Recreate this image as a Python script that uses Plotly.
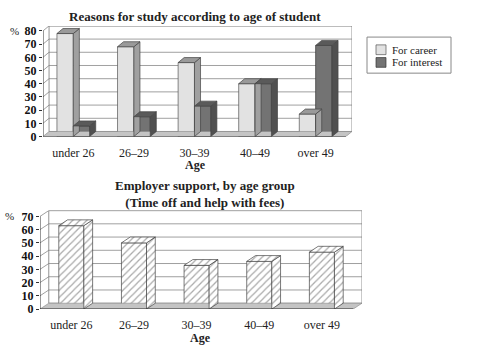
import plotly.graph_objects as go

ages = ["under 26", "26–29", "30–39", "40–49", "over 49"]
career = [78, 68, 56, 40, 17]
interest = [8, 15, 23, 40, 69]
support = [63, 50, 33, 36, 43]
ticks_top = [0, 10, 20, 30, 40, 50, 60, 70, 80]
ticks_bot = [0, 10, 20, 30, 40, 50, 60, 70]
legend_names = ["For career", "For interest"]

FONT = "Liberation Serif"
xs = list(range(len(ages)))

CAREER_COL = "#e2e2e2"
INTEREST_COL = "#737373"

fig = go.Figure()

# depth for pseudo-3D
DX1, DY1 = 0.10, 3.8
DX2, DY2 = 0.14, 4.4
W1 = 0.27
W2 = 0.40


def floor(dx, dy, xa, ya):
    return go.Scatter(x=[-0.5, 4.5, 4.5 + dx, -0.5 + dx, -0.5],
                      y=[0, 0, dy, dy, 0], fill="toself", mode="lines",
                      line=dict(color="#888", width=0.6), fillcolor="#c4c4c4",
                      hoverinfo="skip", showlegend=False, xaxis=xa, yaxis=ya)


def faces(xl, xr, v, dx, dy, side_col, top_col, xa, ya, pattern=None):
    out = []
    sx = [xr, xr + dx, xr + dx, xr, xr]
    sy = [0, dy, v + dy, v, 0]
    tx = [xl, xr, xr + dx, xl + dx, xl]
    ty = [v, v, v + dy, v + dy, v]
    for pxs, pys, col in ((sx, sy, side_col), (tx, ty, top_col)):
        kw = dict(x=pxs, y=pys, fill="toself", mode="lines",
                  line=dict(color="#444", width=0.7), fillcolor=col,
                  hoverinfo="skip", showlegend=False, xaxis=xa, yaxis=ya)
        if pattern:
            kw["fillpattern"] = pattern
        out.append(go.Scatter(**kw))
    return out


fig.add_trace(floor(DX1, DY1, "x", "y"))
fig.add_trace(floor(DX2, DY2, "x2", "y2"))

# top chart bars
fig.add_trace(go.Bar(x=xs, y=career, width=W1, offset=-W1, name=legend_names[0],
                     showlegend=False,
                     marker=dict(color=CAREER_COL, line=dict(color="#555", width=0.7)),
                     xaxis="x", yaxis="y"))
fig.add_trace(go.Bar(x=xs, y=interest, width=W1, offset=0, name=legend_names[1],
                     showlegend=False,
                     marker=dict(color=INTEREST_COL, line=dict(color="#333", width=0.7)),
                     xaxis="x", yaxis="y"))
for i in xs:
    for t in faces(i - W1, i, career[i], DX1, DY1, "#a0a0a0", "#9a9a9a", "x", "y"):
        fig.add_trace(t)
    for t in faces(i, i + W1, interest[i], DX1, DY1, "#505050", "#5a5a5a", "x", "y"):
        fig.add_trace(t)

# bottom chart bars
hatch = dict(shape="/", fgcolor="#555", bgcolor="white", size=5, solidity=0.25)
fig.add_trace(go.Bar(x=xs, y=support, width=W2, showlegend=False,
                     marker=dict(color="white", pattern=hatch,
                                 line=dict(color="#444", width=0.7)),
                     xaxis="x2", yaxis="y2"))
for i in xs:
    for t in faces(i - W2 / 2, i + W2 / 2, support[i], DX2, DY2, "white", "white",
                   "x2", "y2", pattern=hatch):
        fig.add_trace(t)

shapes = []
# back-wall gridlines and walls
for t in ticks_top[1:]:
    shapes.append(dict(type="line", xref="x", yref="y", x0=-0.5 + DX1, x1=4.5 + DX1,
                       y0=t + DY1, y1=t + DY1, line=dict(color="#777", width=0.7), layer="below"))
    shapes.append(dict(type="line", xref="x", yref="y", x0=-0.5, x1=-0.5 + DX1,
                       y0=t, y1=t + DY1, line=dict(color="#777", width=0.7), layer="below"))
shapes.append(dict(type="rect", xref="x", yref="y", x0=-0.5 + DX1, x1=4.5 + DX1,
                   y0=DY1, y1=80 + DY1, line=dict(color="#777", width=0.8), layer="below"))
for t in ticks_bot[1:]:
    shapes.append(dict(type="line", xref="x2", yref="y2", x0=-0.5 + DX2, x1=4.5 + DX2,
                       y0=t + DY2, y1=t + DY2, line=dict(color="#777", width=0.7), layer="below"))
    shapes.append(dict(type="line", xref="x2", yref="y2", x0=-0.5, x1=-0.5 + DX2,
                       y0=t, y1=t + DY2, line=dict(color="#777", width=0.7), layer="below"))
shapes.append(dict(type="rect", xref="x2", yref="y2", x0=-0.5 + DX2, x1=4.5 + DX2,
                   y0=DY2, y1=70 + DY2, line=dict(color="#777", width=0.8), layer="below"))
# front axes
shapes.append(dict(type="line", xref="x", yref="y", x0=-0.5, x1=-0.5, y0=0, y1=80,
                   line=dict(color="#333", width=1)))
shapes.append(dict(type="line", xref="x2", yref="y2", x0=-0.5, x1=-0.5, y0=0, y1=70,
                   line=dict(color="#333", width=1)))
shapes.append(dict(type="line", xref="x", yref="y", x0=-0.5, x1=4.5, y0=0, y1=0,
                   line=dict(color="#333", width=1)))
shapes.append(dict(type="line", xref="x2", yref="y2", x0=-0.5, x1=4.5, y0=0, y1=0,
                   line=dict(color="#333", width=1)))


def px(x):
    return x / 500


def py(y):
    return (356 - y) / 356


# manual legend box
shapes.append(dict(type="rect", xref="paper", yref="paper", x0=px(367), x1=px(451),
                   y0=py(73), y1=py(36), line=dict(color="#888", width=1),
                   fillcolor="white"))
shapes.append(dict(type="rect", xref="paper", yref="paper", x0=px(376), x1=px(386),
                   y0=py(54), y1=py(44), line=dict(color="#555", width=0.7),
                   fillcolor=CAREER_COL))
shapes.append(dict(type="rect", xref="paper", yref="paper", x0=px(376), x1=px(386),
                   y0=py(67), y1=py(57), line=dict(color="#333", width=0.7),
                   fillcolor=INTEREST_COL))

xf = dict(family=FONT, size=12, color="#222")
yf = dict(family=FONT, size=12, color="#111", weight="bold")
axis_common = dict(showgrid=False, zeroline=False, showline=False)


def ann(text, x, y, size=12, xanchor="center"):
    return dict(text=text, x=px(x), y=py(y), xref="paper", yref="paper",
                showarrow=False, xanchor=xanchor, yanchor="middle",
                font=dict(family=FONT, size=size, color="#222"))


fig.update_layout(
    width=500, height=356,
    margin=dict(l=0, r=0, t=0, b=0),
    paper_bgcolor="white", plot_bgcolor="white",
    showlegend=False,
    barmode="overlay",
    font=dict(family=FONT, color="#222"),
    xaxis=dict(domain=[px(43), px(352)], range=[-0.5, 4.5 + DX1], tickfont=xf,
               tickvals=xs, ticktext=ages, ticks="", ticklabelstandoff=7,
               anchor="y", **axis_common),
    yaxis=dict(domain=[py(138), py(24.5)], range=[0, 80 + DY1], tickfont=yf,
               tickvals=ticks_top, ticks="outside", ticklen=3, tickcolor="#333",
               anchor="x", **axis_common),
    xaxis2=dict(domain=[px(40), px(362)], range=[-0.5, 4.5 + DX2], tickfont=xf,
                tickvals=xs, ticktext=ages, ticks="", ticklabelstandoff=7,
                anchor="y2", **axis_common),
    yaxis2=dict(domain=[py(315), py(214)], range=[0, 70 + DY2], tickfont=yf,
                tickvals=ticks_bot, ticks="outside", ticklen=3, tickcolor="#333",
                anchor="x2", **axis_common),
    shapes=shapes,
    annotations=[
        ann("<b>Reasons for study according to age of student</b>", 195, 15, 13),
        ann("<b>Age</b>", 195, 167),
        ann("%", 14, 30, 11),
        ann("<b>Employer support, by age group<br>(Time off and help with fees)</b>",
            205, 197, 13),
        ann("<b>Age</b>", 200, 345),
        ann("%", 9, 220, 11),
        ann(legend_names[0], 390, 49, 11, "left"),
        ann(legend_names[1], 390, 62, 11, "left"),
    ],
)

fig.write_html("out.html", config={"displayModeBar": False},
               post_script="document.body.style.margin='0';")
